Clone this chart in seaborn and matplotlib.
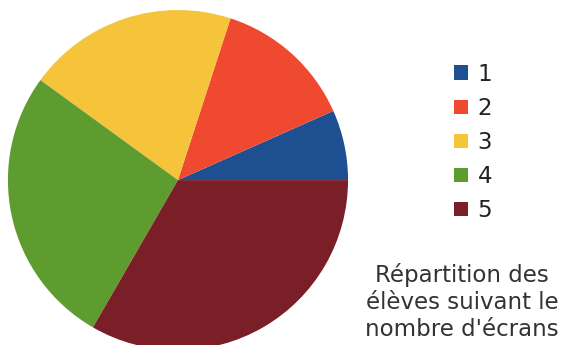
import matplotlib
matplotlib.use("Agg")
import matplotlib.pyplot as plt
import seaborn as sns
from matplotlib.patches import Patch

categories = ["1", "2", "3", "4", "5"]
values = [2, 4, 6, 8, 10]
colors = ["#1d4f91", "#ef4a30", "#f5c43a", "#5f9c2f", "#7a1e27"]
title_text = "Répartition des\nélèves suivant le\nnombre d'écrans"

sns.set_theme(style="white")
plt.rcParams['font.family'] = ['DejaVu Sans']

fig = plt.figure(figsize=(5.65, 3.45), dpi=100)
ax = fig.add_axes([0.014, -0.015, 0.602, 0.986])
ax.pie(values, colors=colors, startangle=0, counterclock=True, radius=1,
       wedgeprops=dict(linewidth=0))
ax.set_xlim(-1, 1)
ax.set_ylim(-1, 1)
ax.set_aspect("equal")
ax.axis("off")

handles = [Patch(facecolor=c, edgecolor="none") for c in colors]
fig.legend(handles, categories, loc="upper left", bbox_to_anchor=(0.776, 0.865),
           frameon=False, fontsize=16.5, handlelength=0.57, handleheight=0.57,
           handletextpad=0.43, labelspacing=0.485, labelcolor="#222222",
           borderpad=0.2)

fig.text(0.818, 0.012, title_text, ha="center", va="bottom", fontsize=16.5,
         color="#333333", linespacing=1.22)

fig.savefig("out.png", dpi=100)
